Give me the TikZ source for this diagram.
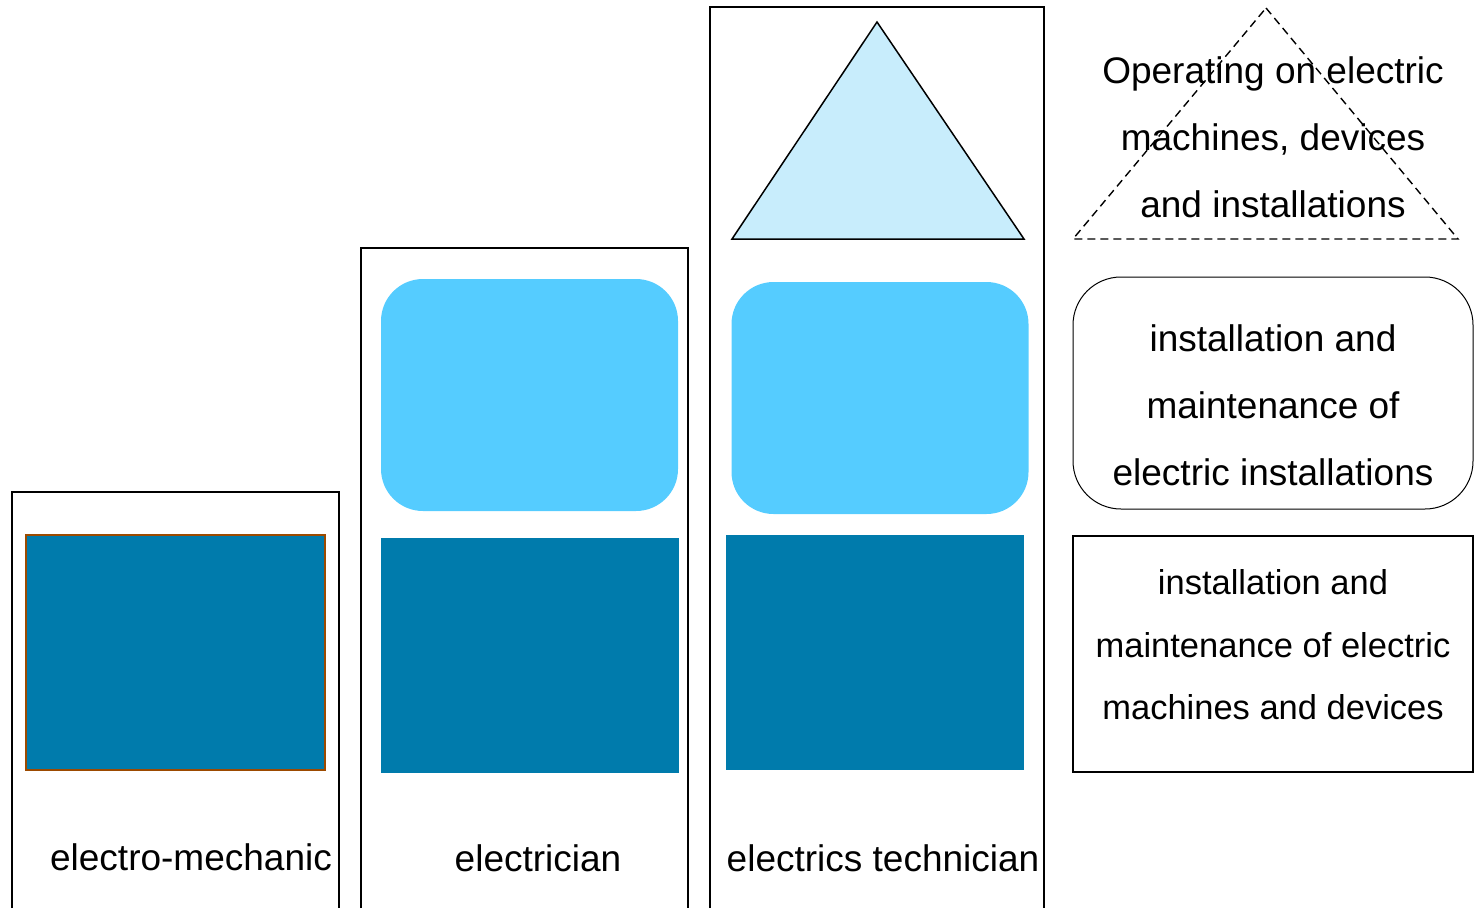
\documentclass[tikz,border=0pt]{standalone}
\usepackage{fontspec}
\setmainfont{Liberation Sans}
\usetikzlibrary{positioning}
\definecolor{darkblue}{HTML}{007BAC}
\definecolor{lightblue}{HTML}{55CCFF}
\definecolor{paleblue}{HTML}{C8EDFC}
\definecolor{brownline}{HTML}{9C4A00}

\begin{document}
\begin{tikzpicture}[
    x=1pt, y=-1pt,
    % 样式定义
    frame/.style={draw=black, line width=1.5pt},
    basebox/.style={rectangle, fill=darkblue, draw=none, minimum width=298pt, minimum height=235pt, inner sep=0pt},
    roundbox/.style={rectangle, rounded corners=42pt, fill=lightblue, draw=none, minimum width=297pt, minimum height=232pt, inner sep=0pt},
    jobname/.style={font=\fontsize{37}{44}\selectfont, inner sep=0pt},
    legendtext/.style={align=center, inner sep=0pt, font=\fontsize{37}{67}\selectfont},
    legendbox/.style={rectangle, draw=black, line width=1.4pt, minimum width=400pt, inner sep=0pt}
]
    \useasboundingbox (0,0) rectangle (1479,908);

    % --- 左侧: electro-mechanic ---
    \draw [frame] (12,908) -- (12,492) -- (339,492) -- (339,908);
    \node (base1) [basebox, draw=brownline, line width=1.2pt, minimum width=299pt] at (175.5,652.5) {};
    \node (job1) [jobname] at (191,857) {electro-mechanic};

    % --- 中间: electrician ---
    \draw [frame] (361,908) -- (361,248) -- (688,248) -- (688,908);
    \node (mid2) [roundbox] at (529.5,395) {};
    \node (base2) [basebox] at (530,655.5) {};
    \node (job2) [jobname] at (538,858) {electrician};

    % --- 右侧: electrics technician ---
    \draw [frame] (710,908) -- (710,7) -- (1044,7) -- (1044,908);
    \coordinate (top3) at (877,22);
    \draw [fill=paleblue, draw=black, line width=1.5pt] (top3) -- (1024,239) -- (732,239) -- cycle;
    \node (mid3) [roundbox] at (880,398) {};
    \node (base3) [basebox] at (875,652.5) {};
    \node (job3) [jobname] at (883,858) {electrics technician};

    % --- 图例 ---
    \coordinate (toplegend) at (1266,8);
    \draw [dash pattern=on 8pt off 5pt, line width=1.4pt] (toplegend) -- (1458,239) -- (1073,239) -- cycle;
    \node (txt1) [legendtext] at (1273,137) {Operating on electric\\machines, devices\\and installations};

    \node (leg2) [legendbox, rounded corners=48pt, line width=1pt, minimum height=232pt] at (1273,393) {};
    \node (txt2) [legendtext] at (1273,405) {installation and\\maintenance of\\electric installations};

    \node (leg3) [legendbox, minimum height=236pt] at (1273,654) {};
    \node (txt3) [legendtext, font=\fontsize{34.5}{62.5}\selectfont] at (1273,645) {installation and\\maintenance of electric\\machines and devices};

\end{tikzpicture}
\end{document}
